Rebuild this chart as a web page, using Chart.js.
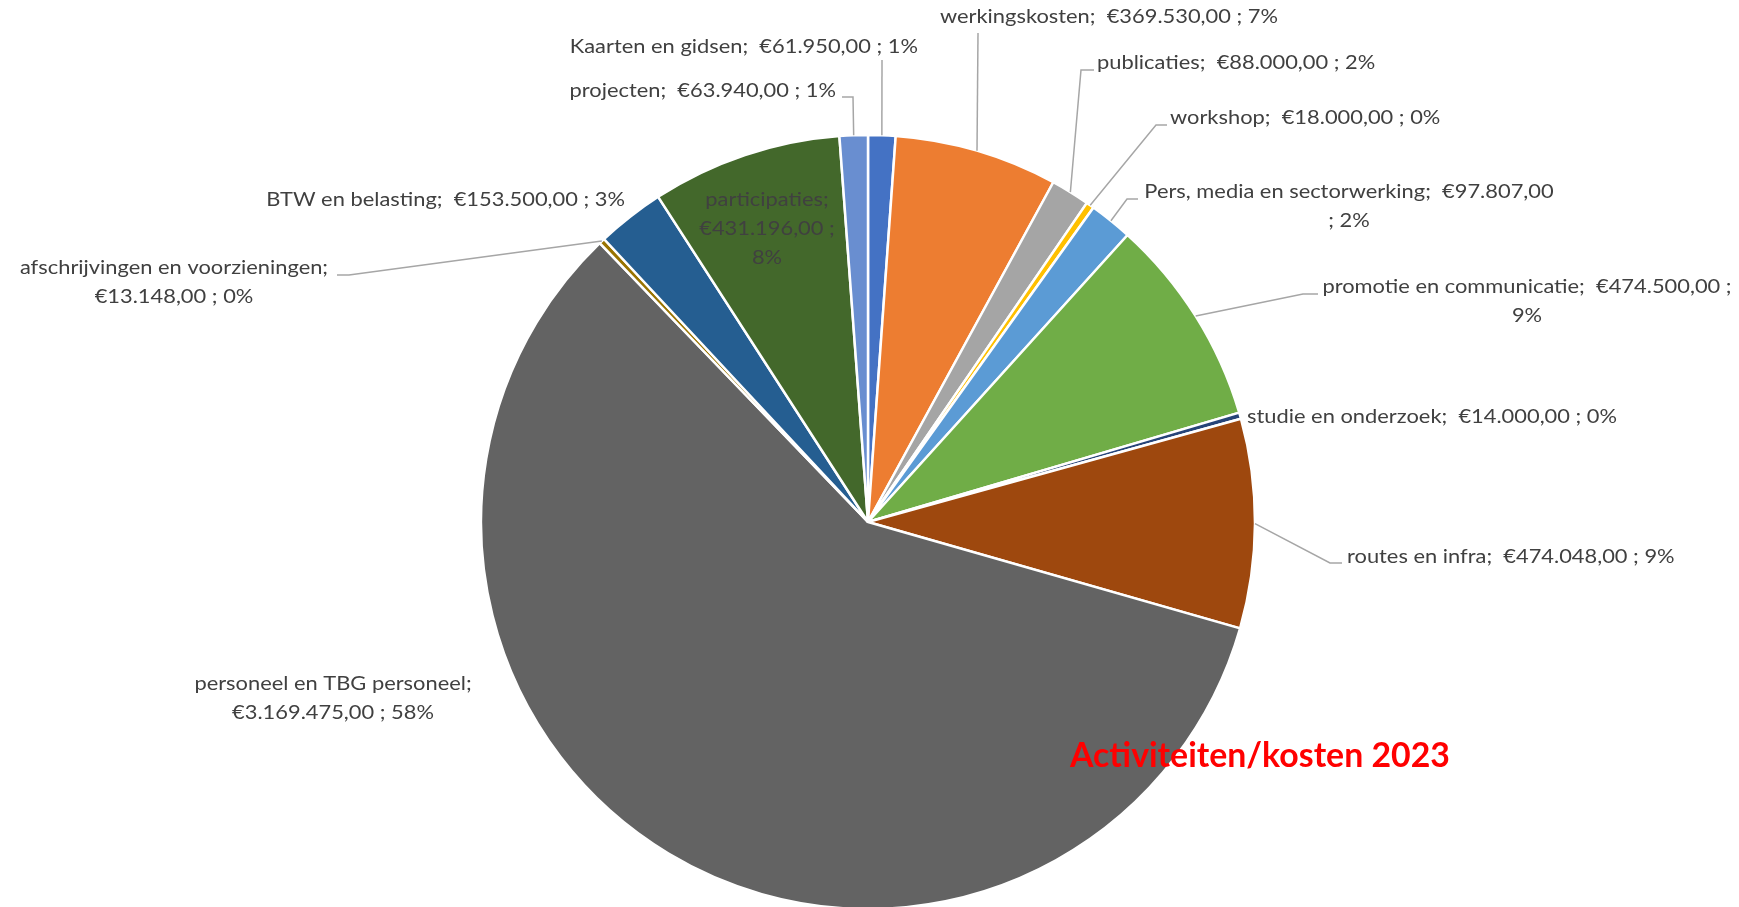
<!DOCTYPE html>
<html>
<head>
<meta charset="utf-8">
<script src="https://cdn.jsdelivr.net/npm/chart.js@4.4.1/dist/chart.umd.min.js"></script>
<style>
  html, body { margin: 0; padding: 0; background: #ffffff; overflow: hidden; }
  #wrap { position: relative; width: 1739px; height: 907px; }
</style>
</head>
<body>
<div id="wrap"><canvas id="c" width="1739" height="907"></canvas></div>
<script>
// ---- data ----
const categories = [
  'Kaarten en gidsen', 'werkingskosten', 'publicaties', 'workshop',
  'Pers, media en sectorwerking', 'promotie en communicatie', 'studie en onderzoek',
  'routes en infra', 'personeel en TBG personeel', 'afschrijvingen en voorzieningen',
  'BTW en belasting', 'participaties', 'projecten'
];
const values = [61950, 369530, 88000, 18000, 97807, 474500, 14000, 474048, 3169475, 13148, 153500, 431196, 63940];
const colors = ['#4472C4', '#ED7D31', '#A5A5A5', '#FFC000', '#5B9BD5', '#70AD47', '#264478',
                '#9E480E', '#636363', '#997300', '#255E91', '#43682B', '#698ED0'];
const chartTitle = 'Activiteiten/kosten 2023';

// ---- label layout (text placement + leader-line bends, label side) ----
const labelLayout = [
  { lines: ['{n};  {v} ; {p}'], align: 'right', x: 918, y: 47, leader: [[882, 60]] },
  { lines: ['{n};  {v} ; {p}'], align: 'left', x: 940, y: 17, leader: [[978, 33]] },
  { lines: ['{n};  {v} ; {p}'], align: 'left', x: 1097, y: 63, leader: [[1094, 70], [1081, 70]] },
  { lines: ['{n};  {v} ; {p}'], align: 'left', x: 1170, y: 118, leader: [[1167, 125], [1156, 125]] },
  { lines: ['{n};  {v}', '; {p}'], align: 'center', x: 1349, y: 192, leader: [[1138, 199], [1127, 199]] },
  { lines: ['{n};  {v} ;', '{p}'], align: 'center', x: 1527, y: 287, leader: [[1318, 294], [1303, 294]] },
  { lines: ['{n};  {v} ; {p}'], align: 'left', x: 1247, y: 417, leader: null },
  { lines: ['{n};  {v} ; {p}'], align: 'left', x: 1347, y: 557, leader: [[1342, 563], [1330, 563]] },
  { lines: ['{n};', '{v} ; {p}'], align: 'center', x: 333, y: 684, leader: null },
  { lines: ['{n};', '{v} ; {p}'], align: 'center', x: 174, y: 268, leader: [[337, 275], [349, 275]] },
  { lines: ['{n};  {v} ; {p}'], align: 'right', x: 625, y: 200, leader: null },
  { lines: ['{n};', '{v} ;', '{p}'], align: 'center', x: 767, y: 200, leader: null },
  { lines: ['{n};  {v} ; {p}'], align: 'right', x: 836, y: 91, leader: [[842, 97], [853, 97]] }
];

function fmtEUR(v) {
  const parts = v.toFixed(2).split('.');
  return '\u20AC' + parts[0].replace(/\B(?=(\d{3})+(?!\d))/g, '.') + ',' + parts[1];
}

const total = values.reduce((a, b) => a + b, 0);

const labelPlugin = {
  id: 'excelLabels',
  afterDatasetsDraw(chart) {
    const ctx = chart.ctx;
    const meta = chart.getDatasetMeta(0);
    const FONT_PX = 18.5;
    const LINE_H = 29;
    ctx.save();
    ctx.font = FONT_PX + 'px Lato, "Open Sans", sans-serif';
    // horizontal scaling to mimic the Calibri-like face widths
    const refW = ctx.measureText('werkingskosten;  \u20AC369.530,00 ; 7%').width;
    let k = 338 / refW;
    k = Math.max(0.8, Math.min(1.2, k));

    // leader lines
    ctx.strokeStyle = '#A6A6A6';
    ctx.lineWidth = 1.5;
    meta.data.forEach((arc, i) => {
      const lay = labelLayout[i];
      if (!lay || !lay.leader) return;
      const mid = (arc.startAngle + arc.endAngle) / 2;
      const ax = arc.x + Math.cos(mid) * arc.outerRadius;
      const ay = arc.y + Math.sin(mid) * arc.outerRadius;
      ctx.beginPath();
      ctx.moveTo(lay.leader[0][0], lay.leader[0][1]);
      for (let j = 1; j < lay.leader.length; j++) ctx.lineTo(lay.leader[j][0], lay.leader[j][1]);
      ctx.lineTo(ax, ay);
      ctx.stroke();
    });

    // texts
    ctx.fillStyle = '#404040';
    ctx.textBaseline = 'middle';
    meta.data.forEach((arc, i) => {
      const lay = labelLayout[i];
      const n = categories[i];
      const v = fmtEUR(values[i]);
      const p = Math.round(values[i] / total * 100) + '%';
      lay.lines.forEach((tpl, li) => {
        const txt = tpl.replace('{n}', n).replace('{v}', v).replace('{p}', p);
        ctx.save();
        ctx.translate(lay.x, lay.y + li * LINE_H);
        ctx.scale(k, 1);
        ctx.textAlign = lay.align;
        ctx.fillText(txt, 0, 0);
        ctx.restore();
      });
    });

    // floating title
    ctx.font = 'bold 34px Lato, "Open Sans", sans-serif';
    const tw = ctx.measureText(chartTitle).width;
    const tk = Math.max(0.75, Math.min(1.2, 380 / tw));
    ctx.fillStyle = '#FF0000';
    ctx.textAlign = 'center';
    ctx.textBaseline = 'alphabetic';
    ctx.translate(1260, 767);
    ctx.scale(tk, 1);
    ctx.fillText(chartTitle, 0, 0);
    ctx.restore();
  }
};

new Chart(document.getElementById('c'), {
  type: 'pie',
  data: {
    labels: categories,
    datasets: [{
      data: values,
      backgroundColor: colors,
      borderColor: '#FFFFFF',
      borderWidth: 2.5,
      hoverOffset: 0,
      offset: 0,
      clip: false
    }]
  },
  options: {
    responsive: false,
    animation: false,
    radius: 387,
    layout: { padding: { left: 0, right: 3, top: 137, bottom: 0 } },
    plugins: {
      legend: { display: false },
      title: { display: false },
      tooltip: { enabled: false }
    }
  },
  plugins: [labelPlugin]
});
</script>
</body>
</html>
